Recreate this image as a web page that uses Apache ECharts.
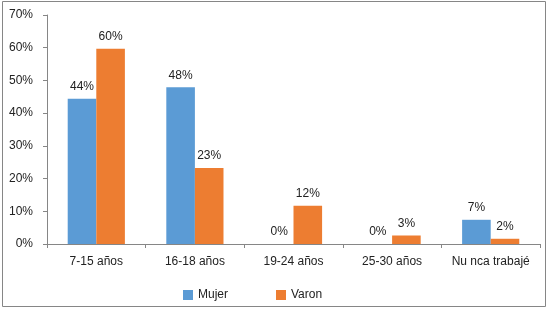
<!DOCTYPE html>
<html>
<head>
<meta charset="utf-8">
<script src="https://cdn.jsdelivr.net/npm/echarts@6/dist/echarts.min.js"></script>
<style>
  body { margin: 0; background: #fff; }
  #main { width: 547px; height: 309px; }
</style>
</head>
<body>
<div id="main"></div>
<script>
var categories = ['7-15 años', '16-18 años', '19-24 años', '25-30 años', 'Nu nca trabajé'];
var mujer = [44.4, 47.9, 0, 0, 7.4];
var varon = [59.7, 23.2, 11.7, 2.6, 1.6];
var yTicks = [0, 10, 20, 30, 40, 50, 60, 70];

var chart = echarts.init(document.getElementById('main'));
var font = 'Liberation Sans';
var labelStyle = {
  show: true,
  position: 'top',
  distance: 6,
  color: '#222',
  fontFamily: font,
  fontSize: 12,
  formatter: function (p) { return Math.round(p.value) + '%'; }
};

var option = {
  animation: false,
  textStyle: { fontFamily: font },
  graphic: [{
    type: 'rect',
    shape: { x: 2.5, y: 1.5, width: 543, height: 305 },
    style: { fill: 'none', stroke: '#868686', lineWidth: 1 }
  }],
  legend: {
    left: 178,
    top: 284,
    itemWidth: 10,
    itemHeight: 10,
    itemGap: 48,
    icon: 'rect',
    textStyle: { color: '#222', fontSize: 12, fontFamily: font },
    data: ['Mujer', 'Varon']
  },
  grid: { left: 47, right: 7, top: 15, bottom: 65 },
  xAxis: {
    type: 'category',
    data: categories,
    axisLine: { lineStyle: { color: '#868686' } },
    axisTick: { show: true, length: 4, interval: 0, lineStyle: { color: '#868686' } },
    axisLabel: { interval: 0, color: '#222', fontSize: 12, fontFamily: font, margin: 12 }
  },
  yAxis: {
    type: 'value',
    min: yTicks[0],
    max: yTicks[yTicks.length - 1],
    interval: 10,
    axisLine: { show: true, lineStyle: { color: '#868686' } },
    axisTick: { show: true, length: 4, lineStyle: { color: '#868686' } },
    splitLine: { show: false },
    axisLabel: { color: '#222', fontSize: 12, fontFamily: font, margin: 14, formatter: '{value}%' }
  },
  series: [
    {
      name: 'Mujer',
      type: 'bar',
      data: mujer,
      barGap: '0%',
      barCategoryGap: '42%',
      itemStyle: { color: '#5b9bd5' },
      label: labelStyle
    },
    {
      name: 'Varon',
      type: 'bar',
      data: varon,
      itemStyle: { color: '#ed7d31' },
      label: labelStyle
    }
  ]
};
chart.setOption(option);
</script>
</body>
</html>
